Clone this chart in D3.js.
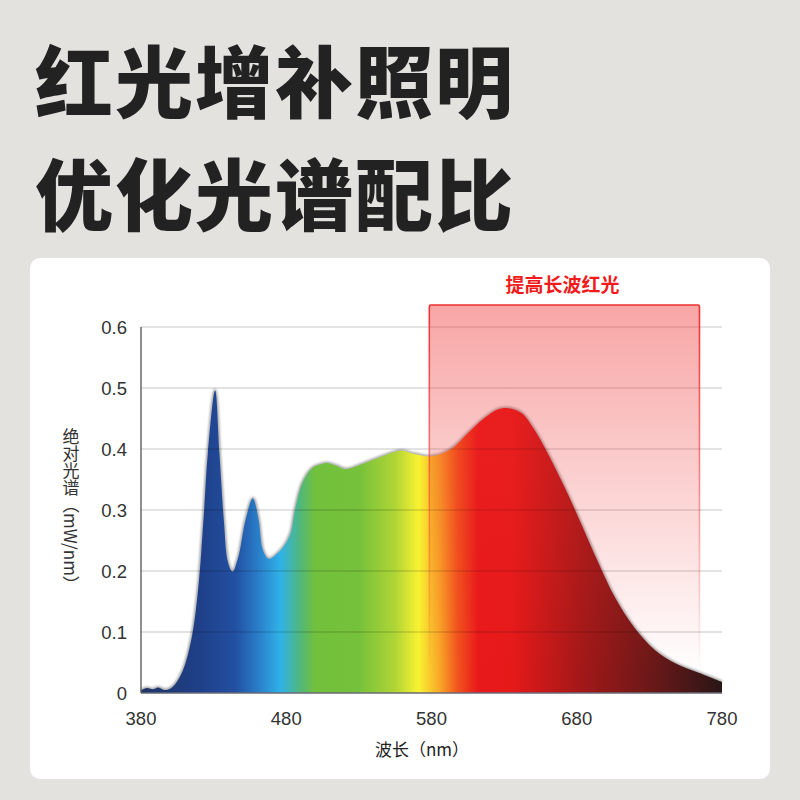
<!DOCTYPE html>
<html lang="zh">
<head>
<meta charset="UTF-8">
<title>红光增补照明</title>
<script src="https://d3js.org/d3.v7.min.js"></script>
<style>
    body { margin: 0; background: #e3e2df; }
    svg { display: block; }
    text { font-family: "Noto Sans CJK SC", "Noto Sans", sans-serif; }
    .tick-label { font-family: "Liberation Sans", Arial, sans-serif; font-size: 18.5px; fill: #333; }
</style>
</head>
<body>
<svg id="chart" width="800" height="800"></svg>
<script>
// spectrum samples (wavelength nm, mW/nm)
const wavelengths = [380, 384, 388, 392, 396, 400, 404, 409, 415, 419.5, 423, 426, 431, 434, 437, 440, 443, 447, 452, 457, 461, 464, 468, 474, 479, 483, 486, 491, 498, 504, 508, 514, 521, 531, 545, 559, 568, 580, 593.5, 605, 616, 626, 633, 642, 651, 660, 671.5, 683, 695, 706, 720, 734, 747.5, 764, 780];
const power = [0.004, 0.008, 0.006, 0.009, 0.005, 0.007, 0.016, 0.038, 0.092, 0.174, 0.284, 0.393, 0.496, 0.393, 0.284, 0.213, 0.199, 0.223, 0.284, 0.319, 0.284, 0.234, 0.220, 0.229, 0.243, 0.262, 0.300, 0.344, 0.369, 0.375, 0.377, 0.373, 0.367, 0.374, 0.387, 0.397, 0.392, 0.388, 0.400, 0.426, 0.450, 0.465, 0.467, 0.459, 0.431, 0.393, 0.338, 0.278, 0.213, 0.158, 0.106, 0.070, 0.049, 0.033, 0.018];

const xTicks = [380, 480, 580, 680, 780];
const yTicks = [0, 0.1, 0.2, 0.3, 0.4, 0.5, 0.6];

// colour of the light at each wavelength
const colorStops = [
    [380, "#1f3566"], [420, "#1f3f88"], [445, "#2250a2"], [462, "#2a82cc"], [476, "#2fb2e8"],
    [490, "#52b878"], [500, "#72c03c"], [530, "#76c13b"], [555, "#b0d535"], [571, "#f8f232"],
    [586, "#f9a527"], [598, "#f1541d"], [612, "#e8191a"], [635, "#e61919"], [683, "#a31818"],
    [730, "#6d1818"], [780, "#2a1616"]
];

const highlightRange = [578.5, 764.5];
const highlightTop = 0.636;
const highlightLabel = "提高长波红光";

const titleLines = ["红光增补照明", "优化光谱配比"];
const yLabel = "绝对光谱（mW/nm）";
const xLabel = "波长（nm）";

const svg = d3.select("#chart");

// titles
svg.selectAll(".title")
    .data(titleLines)
    .enter().append("text")
    .attr("class", "title")
    .attr("x", 35)
    .attr("y", (d, i) => 112 + i * 113)
    .attr("font-size", 78)
    .attr("font-weight", 900)
    .attr("letter-spacing", 2)
    .attr("fill", "#222")
    .text(d => d);

// white card
svg.append("rect")
    .attr("x", 30).attr("y", 258)
    .attr("width", 740).attr("height", 521)
    .attr("rx", 10)
    .attr("fill", "#fff");

const x = d3.scaleLinear().domain([380, 780]).range([141, 722]);
const y = d3.scaleLinear().domain([0, 0.6]).range([693, 327]);

const defs = svg.append("defs");

const spec = defs.append("linearGradient")
    .attr("id", "spec")
    .attr("gradientUnits", "userSpaceOnUse")
    .attr("x1", x(380)).attr("x2", x(780))
    .attr("y1", 0).attr("y2", 0);
spec.selectAll("stop")
    .data(colorStops)
    .enter().append("stop")
    .attr("offset", d => (d[0] - 380) / 400)
    .attr("stop-color", d => d[1]);

const boxFill = defs.append("linearGradient")
    .attr("id", "boxFill").attr("x1", 0).attr("x2", 0).attr("y1", 0).attr("y2", 1);
boxFill.append("stop").attr("offset", 0).attr("stop-color", "#ee2a2a").attr("stop-opacity", 0.42);
boxFill.append("stop").attr("offset", 0.95).attr("stop-color", "#ee2a2a").attr("stop-opacity", 0);

const boxStroke = defs.append("linearGradient")
    .attr("id", "boxStroke").attr("x1", 0).attr("x2", 0).attr("y1", 0).attr("y2", 1);
boxStroke.append("stop").attr("offset", 0).attr("stop-color", "#f03030").attr("stop-opacity", 1);
boxStroke.append("stop").attr("offset", 0.95).attr("stop-color", "#f03030").attr("stop-opacity", 0);

defs.append("filter").attr("id", "soft")
    .append("feGaussianBlur").attr("stdDeviation", 0.9);

const data = wavelengths.map((w, i) => ({w: w, v: power[i]}));

const area = d3.area()
    .x(d => x(d.w))
    .y0(y(0))
    .y1(d => y(d.v))
    .curve(d3.curveCatmullRom.alpha(0.5));

const line = d3.line()
    .x(d => x(d.w))
    .y(d => y(d.v))
    .curve(d3.curveCatmullRom.alpha(0.5));

// soft grey outline
svg.append("path")
    .datum(data)
    .attr("d", line)
    .attr("fill", "none")
    .attr("stroke", "#a9a9a9")
    .attr("stroke-width", 3.2)
    .attr("filter", "url(#soft)");

svg.append("path")
    .datum(data)
    .attr("d", area)
    .attr("fill", "url(#spec)");

// grid lines
svg.append("g")
    .selectAll("line")
    .data(yTicks.filter(t => t > 0))
    .enter().append("line")
    .attr("x1", x(380)).attr("x2", x(780))
    .attr("y1", d => y(d)).attr("y2", d => y(d))
    .attr("stroke", "rgba(0,0,0,0.22)")
    .attr("stroke-width", 1);

// highlighted long-wave red band
svg.append("rect")
    .attr("x", x(highlightRange[0]))
    .attr("y", y(highlightTop))
    .attr("width", x(highlightRange[1]) - x(highlightRange[0]))
    .attr("height", y(0) - y(highlightTop))
    .attr("rx", 1.5)
    .attr("fill", "url(#boxFill)")
    .attr("stroke", "url(#boxStroke)")
    .attr("stroke-width", 1.6);

svg.append("text")
    .attr("x", (x(highlightRange[0]) + x(highlightRange[1])) / 2 - 2)
    .attr("y", y(highlightTop) - 13)
    .attr("text-anchor", "middle")
    .attr("font-size", 19)
    .attr("font-weight", 700)
    .attr("fill", "#f01c1c")
    .text(highlightLabel);

// axes lines
svg.append("line")
    .attr("x1", x(380)).attr("x2", x(380))
    .attr("y1", y(0.6)).attr("y2", y(0))
    .attr("stroke", "#5a5050").attr("stroke-width", 1.3);
svg.append("line")
    .attr("x1", x(380)).attr("x2", x(780))
    .attr("y1", y(0)).attr("y2", y(0))
    .attr("stroke", "#6a6a78").attr("stroke-width", 1.5);

// tick labels
svg.append("g")
    .selectAll("text")
    .data(yTicks)
    .enter().append("text")
    .attr("class", "tick-label")
    .attr("x", 127)
    .attr("y", d => y(d) + 7)
    .attr("text-anchor", "end")
    .text(d => d === 0 ? "0" : d.toFixed(1));

svg.append("g")
    .selectAll("text")
    .data(xTicks)
    .enter().append("text")
    .attr("class", "tick-label")
    .attr("x", d => x(d))
    .attr("y", 725)
    .attr("text-anchor", "middle")
    .text(d => d);

// axis titles
svg.append("text")
    .attr("x", 422)
    .attr("y", 756)
    .attr("text-anchor", "middle")
    .attr("font-size", 17)
    .attr("fill", "#222")
    .text(xLabel);

svg.append("text")
    .attr("x", 71)
    .attr("y", 428)
    .attr("font-size", 17)
    .attr("fill", "#333")
    .style("writing-mode", "vertical-rl")
    .text(yLabel);
</script>
</body>
</html>
